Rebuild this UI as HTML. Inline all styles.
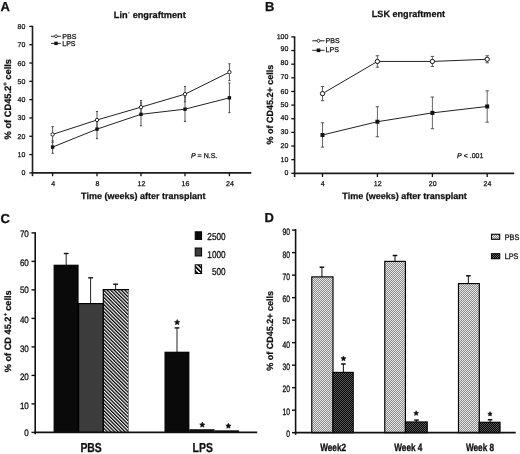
<!DOCTYPE html>
<html><head><meta charset="utf-8"><style>
html,body{margin:0;padding:0;background:#fff;}
body{width:520px;height:454px;overflow:hidden;}
svg{display:block;filter:grayscale(1);text-rendering:geometricPrecision;font-family:"Liberation Sans",sans-serif;}
</style></head><body>
<svg width="520" height="454" viewBox="0 0 520 454">
<defs>
<pattern id="hatch" patternUnits="userSpaceOnUse" width="2.5" height="2.5" patternTransform="rotate(-45)">
<rect width="2.5" height="2.5" fill="#fff"/><rect width="1.3" height="2.5" fill="#000"/></pattern>
<pattern id="hatch2" patternUnits="userSpaceOnUse" width="3.2" height="3.2" patternTransform="rotate(-45)">
<rect width="3.2" height="3.2" fill="#fff"/><rect width="1.7" height="3.2" fill="#000"/></pattern>
<pattern id="dotL" patternUnits="userSpaceOnUse" width="2" height="2">
<rect width="2" height="2" fill="#8c8c8c"/><rect width="1" height="1" fill="#e6e6e6"/><rect x="1" y="1" width="1" height="1" fill="#e6e6e6"/></pattern>
<pattern id="dotD" patternUnits="userSpaceOnUse" width="2" height="2">
<rect width="2" height="2" fill="#000"/><rect width="1" height="1" fill="#5a5a5a"/><rect x="1" y="1" width="1" height="1" fill="#5a5a5a"/></pattern>
</defs>
<rect width="520" height="454" fill="#fff"/>
<text x="0.60" y="10.70" font-size="13" font-weight="bold" font-style="normal" text-anchor="start" fill="#111"  stroke="#111" stroke-width="0.25">A</text>
<line x1="32.50" y1="25.80" x2="32.50" y2="176.20" stroke="#1c1c1c" stroke-width="1.6"/>
<line x1="29.30" y1="172.90" x2="32.50" y2="172.90" stroke="#111" stroke-width="1.3"/>
<text x="25.30" y="175.40" font-size="7" font-weight="normal" font-style="normal" text-anchor="end" fill="#111"  stroke="#111" stroke-width="0.25">0</text>
<line x1="29.30" y1="154.59" x2="32.50" y2="154.59" stroke="#111" stroke-width="1.3"/>
<text x="25.30" y="157.09" font-size="7" font-weight="normal" font-style="normal" text-anchor="end" fill="#111"  stroke="#111" stroke-width="0.25">10</text>
<line x1="29.30" y1="136.27" x2="32.50" y2="136.27" stroke="#111" stroke-width="1.3"/>
<text x="25.30" y="138.77" font-size="7" font-weight="normal" font-style="normal" text-anchor="end" fill="#111"  stroke="#111" stroke-width="0.25">20</text>
<line x1="29.30" y1="117.96" x2="32.50" y2="117.96" stroke="#111" stroke-width="1.3"/>
<text x="25.30" y="120.46" font-size="7" font-weight="normal" font-style="normal" text-anchor="end" fill="#111"  stroke="#111" stroke-width="0.25">30</text>
<line x1="29.30" y1="99.65" x2="32.50" y2="99.65" stroke="#111" stroke-width="1.3"/>
<text x="25.30" y="102.15" font-size="7" font-weight="normal" font-style="normal" text-anchor="end" fill="#111"  stroke="#111" stroke-width="0.25">40</text>
<line x1="29.30" y1="81.34" x2="32.50" y2="81.34" stroke="#111" stroke-width="1.3"/>
<text x="25.30" y="83.84" font-size="7" font-weight="normal" font-style="normal" text-anchor="end" fill="#111"  stroke="#111" stroke-width="0.25">50</text>
<line x1="29.30" y1="63.02" x2="32.50" y2="63.02" stroke="#111" stroke-width="1.3"/>
<text x="25.30" y="65.52" font-size="7" font-weight="normal" font-style="normal" text-anchor="end" fill="#111"  stroke="#111" stroke-width="0.25">60</text>
<line x1="29.30" y1="44.71" x2="32.50" y2="44.71" stroke="#111" stroke-width="1.3"/>
<text x="25.30" y="47.21" font-size="7" font-weight="normal" font-style="normal" text-anchor="end" fill="#111"  stroke="#111" stroke-width="0.25">70</text>
<line x1="29.30" y1="26.40" x2="32.50" y2="26.40" stroke="#111" stroke-width="1.3"/>
<text x="25.30" y="28.90" font-size="7" font-weight="normal" font-style="normal" text-anchor="end" fill="#111"  stroke="#111" stroke-width="0.25">80</text>
<line x1="31.70" y1="172.90" x2="251.30" y2="172.90" stroke="#1c1c1c" stroke-width="1.7"/>
<line x1="52.60" y1="172.90" x2="52.60" y2="176.20" stroke="#111" stroke-width="1.3"/>
<text x="53.10" y="186.20" font-size="7" font-weight="normal" font-style="normal" text-anchor="middle" fill="#111"  stroke="#111" stroke-width="0.25">4</text>
<line x1="97.00" y1="172.90" x2="97.00" y2="176.20" stroke="#111" stroke-width="1.3"/>
<text x="97.50" y="186.20" font-size="7" font-weight="normal" font-style="normal" text-anchor="middle" fill="#111"  stroke="#111" stroke-width="0.25">8</text>
<line x1="141.00" y1="172.90" x2="141.00" y2="176.20" stroke="#111" stroke-width="1.3"/>
<text x="141.50" y="186.20" font-size="7" font-weight="normal" font-style="normal" text-anchor="middle" fill="#111"  stroke="#111" stroke-width="0.25">12</text>
<line x1="185.00" y1="172.90" x2="185.00" y2="176.20" stroke="#111" stroke-width="1.3"/>
<text x="185.50" y="186.20" font-size="7" font-weight="normal" font-style="normal" text-anchor="middle" fill="#111"  stroke="#111" stroke-width="0.25">16</text>
<line x1="229.40" y1="172.90" x2="229.40" y2="176.20" stroke="#111" stroke-width="1.3"/>
<text x="229.90" y="186.20" font-size="7" font-weight="normal" font-style="normal" text-anchor="middle" fill="#111"  stroke="#111" stroke-width="0.25">24</text>
<text x="143.30" y="198.70" font-size="9" font-weight="bold" font-style="normal" text-anchor="middle" fill="#111"  stroke="#111" stroke-width="0.25">Time (weeks) after transplant</text>
<text transform="translate(10.90,99.20) rotate(-90)" font-size="9.3" font-weight="bold" text-anchor="middle" fill="#111" stroke="#111" stroke-width="0.25">% of CD45.2<tspan font-size="6" dy="-3.5">+</tspan><tspan dy="3.5"> cells</tspan></text>
<text x="113.80" y="18.40" font-size="9.2" font-weight="bold" font-style="normal" text-anchor="start" fill="#111"  stroke="#111" stroke-width="0.25">Lin<tspan font-size="4.5" dy="-4.2" dx="0.4">-</tspan><tspan dy="4.2" dx="0.6"> engraftment</tspan></text>
<line x1="52.60" y1="126.57" x2="52.60" y2="142.32" stroke="#555" stroke-width="1.0"/>
<line x1="51.50" y1="126.57" x2="53.70" y2="126.57" stroke="#444" stroke-width="1.0"/>
<line x1="51.50" y1="142.32" x2="53.70" y2="142.32" stroke="#444" stroke-width="1.0"/>
<line x1="97.00" y1="111.55" x2="97.00" y2="128.40" stroke="#555" stroke-width="1.0"/>
<line x1="95.90" y1="111.55" x2="98.10" y2="111.55" stroke="#444" stroke-width="1.0"/>
<line x1="95.90" y1="128.40" x2="98.10" y2="128.40" stroke="#444" stroke-width="1.0"/>
<line x1="141.00" y1="100.56" x2="141.00" y2="113.75" stroke="#555" stroke-width="1.0"/>
<line x1="139.90" y1="100.56" x2="142.10" y2="100.56" stroke="#444" stroke-width="1.0"/>
<line x1="139.90" y1="113.75" x2="142.10" y2="113.75" stroke="#444" stroke-width="1.0"/>
<line x1="185.00" y1="86.46" x2="185.00" y2="101.85" stroke="#555" stroke-width="1.0"/>
<line x1="183.90" y1="86.46" x2="186.10" y2="86.46" stroke="#444" stroke-width="1.0"/>
<line x1="183.90" y1="101.85" x2="186.10" y2="101.85" stroke="#444" stroke-width="1.0"/>
<line x1="229.40" y1="63.75" x2="229.40" y2="80.60" stroke="#555" stroke-width="1.0"/>
<line x1="228.30" y1="63.75" x2="230.50" y2="63.75" stroke="#444" stroke-width="1.0"/>
<line x1="228.30" y1="80.60" x2="230.50" y2="80.60" stroke="#444" stroke-width="1.0"/>
<line x1="52.60" y1="140.85" x2="52.60" y2="153.31" stroke="#555" stroke-width="1.0"/>
<line x1="51.50" y1="140.85" x2="53.70" y2="140.85" stroke="#444" stroke-width="1.0"/>
<line x1="51.50" y1="153.31" x2="53.70" y2="153.31" stroke="#444" stroke-width="1.0"/>
<line x1="97.00" y1="119.61" x2="97.00" y2="138.65" stroke="#555" stroke-width="1.0"/>
<line x1="95.90" y1="119.61" x2="98.10" y2="119.61" stroke="#444" stroke-width="1.0"/>
<line x1="95.90" y1="138.65" x2="98.10" y2="138.65" stroke="#444" stroke-width="1.0"/>
<line x1="141.00" y1="102.76" x2="141.00" y2="125.84" stroke="#555" stroke-width="1.0"/>
<line x1="139.90" y1="102.76" x2="142.10" y2="102.76" stroke="#444" stroke-width="1.0"/>
<line x1="139.90" y1="125.84" x2="142.10" y2="125.84" stroke="#444" stroke-width="1.0"/>
<line x1="185.00" y1="96.90" x2="185.00" y2="121.44" stroke="#555" stroke-width="1.0"/>
<line x1="183.90" y1="96.90" x2="186.10" y2="96.90" stroke="#444" stroke-width="1.0"/>
<line x1="183.90" y1="121.44" x2="186.10" y2="121.44" stroke="#444" stroke-width="1.0"/>
<line x1="229.40" y1="82.98" x2="229.40" y2="112.65" stroke="#555" stroke-width="1.0"/>
<line x1="228.30" y1="82.98" x2="230.50" y2="82.98" stroke="#444" stroke-width="1.0"/>
<line x1="228.30" y1="112.65" x2="230.50" y2="112.65" stroke="#444" stroke-width="1.0"/>
<polyline points="52.60,134.44 97.00,119.98 141.00,107.16 185.00,94.15 229.40,72.18" fill="none" stroke="#222" stroke-width="1"/>
<polyline points="52.60,147.08 97.00,129.13 141.00,114.30 185.00,109.17 229.40,97.82" fill="none" stroke="#222" stroke-width="1"/>
<circle cx="52.60" cy="134.44" r="1.7" fill="#fff" stroke="#111" stroke-width="0.9"/>
<circle cx="97.00" cy="119.98" r="1.7" fill="#fff" stroke="#111" stroke-width="0.9"/>
<circle cx="141.00" cy="107.16" r="1.7" fill="#fff" stroke="#111" stroke-width="0.9"/>
<circle cx="185.00" cy="94.15" r="1.7" fill="#fff" stroke="#111" stroke-width="0.9"/>
<circle cx="229.40" cy="72.18" r="1.7" fill="#fff" stroke="#111" stroke-width="0.9"/>
<rect x="50.90" y="145.38" width="3.40" height="3.40" fill="#111" stroke="none" stroke-width="0"/>
<rect x="95.30" y="127.43" width="3.40" height="3.40" fill="#111" stroke="none" stroke-width="0"/>
<rect x="139.30" y="112.60" width="3.40" height="3.40" fill="#111" stroke="none" stroke-width="0"/>
<rect x="183.30" y="107.47" width="3.40" height="3.40" fill="#111" stroke="none" stroke-width="0"/>
<rect x="227.70" y="96.12" width="3.40" height="3.40" fill="#111" stroke="none" stroke-width="0"/>
<line x1="51.00" y1="36.30" x2="60.80" y2="36.30" stroke="#111" stroke-width="0.9"/>
<circle cx="56" cy="36.3" r="1.4" fill="#fff" stroke="#111" stroke-width="0.8"/>
<line x1="51.00" y1="43.40" x2="60.80" y2="43.40" stroke="#111" stroke-width="0.9"/>
<rect x="54.30" y="41.70" width="3.40" height="3.40" fill="#111" stroke="none" stroke-width="0"/>
<text x="62.30" y="38.90" font-size="7" font-weight="normal" font-style="normal" text-anchor="start" fill="#111"  stroke="#111" stroke-width="0.25">PBS</text>
<text x="62.30" y="46.20" font-size="7" font-weight="normal" font-style="normal" text-anchor="start" fill="#111"  stroke="#111" stroke-width="0.25">LPS</text>
<text x="191.00" y="157.90" font-size="7" font-weight="normal" font-style="normal" text-anchor="start" fill="#111"  stroke="#111" stroke-width="0.25"><tspan font-style="italic">P</tspan> = N.S.</text>
<text x="264.90" y="10.70" font-size="13" font-weight="bold" font-style="normal" text-anchor="start" fill="#111"  stroke="#111" stroke-width="0.25">B</text>
<line x1="294.60" y1="36.30" x2="294.60" y2="177.00" stroke="#1c1c1c" stroke-width="1.6"/>
<line x1="291.30" y1="173.30" x2="294.60" y2="173.30" stroke="#111" stroke-width="1.3"/>
<text x="288.40" y="175.00" font-size="7" font-weight="normal" font-style="normal" text-anchor="end" fill="#111"  stroke="#111" stroke-width="0.25">0</text>
<line x1="291.30" y1="159.66" x2="294.60" y2="159.66" stroke="#111" stroke-width="1.3"/>
<text x="288.40" y="161.90" font-size="7" font-weight="normal" font-style="normal" text-anchor="end" fill="#111"  stroke="#111" stroke-width="0.25">10</text>
<line x1="291.30" y1="146.02" x2="294.60" y2="146.02" stroke="#111" stroke-width="1.3"/>
<text x="288.40" y="147.60" font-size="7" font-weight="normal" font-style="normal" text-anchor="end" fill="#111"  stroke="#111" stroke-width="0.25">20</text>
<line x1="291.30" y1="132.38" x2="294.60" y2="132.38" stroke="#111" stroke-width="1.3"/>
<text x="288.40" y="134.30" font-size="7" font-weight="normal" font-style="normal" text-anchor="end" fill="#111"  stroke="#111" stroke-width="0.25">30</text>
<line x1="291.30" y1="118.74" x2="294.60" y2="118.74" stroke="#111" stroke-width="1.3"/>
<text x="288.40" y="120.00" font-size="7" font-weight="normal" font-style="normal" text-anchor="end" fill="#111"  stroke="#111" stroke-width="0.25">40</text>
<line x1="291.30" y1="105.10" x2="294.60" y2="105.10" stroke="#111" stroke-width="1.3"/>
<text x="288.40" y="107.30" font-size="7" font-weight="normal" font-style="normal" text-anchor="end" fill="#111"  stroke="#111" stroke-width="0.25">50</text>
<line x1="291.30" y1="91.46" x2="294.60" y2="91.46" stroke="#111" stroke-width="1.3"/>
<text x="288.40" y="93.50" font-size="7" font-weight="normal" font-style="normal" text-anchor="end" fill="#111"  stroke="#111" stroke-width="0.25">60</text>
<line x1="291.30" y1="77.82" x2="294.60" y2="77.82" stroke="#111" stroke-width="1.3"/>
<text x="288.40" y="79.30" font-size="7" font-weight="normal" font-style="normal" text-anchor="end" fill="#111"  stroke="#111" stroke-width="0.25">70</text>
<line x1="291.30" y1="64.18" x2="294.60" y2="64.18" stroke="#111" stroke-width="1.3"/>
<text x="288.40" y="64.70" font-size="7" font-weight="normal" font-style="normal" text-anchor="end" fill="#111"  stroke="#111" stroke-width="0.25">80</text>
<line x1="291.30" y1="50.54" x2="294.60" y2="50.54" stroke="#111" stroke-width="1.3"/>
<text x="288.40" y="51.30" font-size="7" font-weight="normal" font-style="normal" text-anchor="end" fill="#111"  stroke="#111" stroke-width="0.25">90</text>
<line x1="291.30" y1="36.90" x2="294.60" y2="36.90" stroke="#111" stroke-width="1.3"/>
<text x="288.40" y="38.80" font-size="7" font-weight="normal" font-style="normal" text-anchor="end" fill="#111"  stroke="#111" stroke-width="0.25">100</text>
<line x1="293.80" y1="173.30" x2="514.20" y2="173.30" stroke="#1c1c1c" stroke-width="1.7"/>
<line x1="322.50" y1="173.30" x2="322.50" y2="177.00" stroke="#111" stroke-width="1.3"/>
<text x="322.80" y="186.00" font-size="7" font-weight="normal" font-style="normal" text-anchor="middle" fill="#111"  stroke="#111" stroke-width="0.25">4</text>
<line x1="377.40" y1="173.30" x2="377.40" y2="177.00" stroke="#111" stroke-width="1.3"/>
<text x="377.70" y="186.00" font-size="7" font-weight="normal" font-style="normal" text-anchor="middle" fill="#111"  stroke="#111" stroke-width="0.25">12</text>
<line x1="432.40" y1="173.30" x2="432.40" y2="177.00" stroke="#111" stroke-width="1.3"/>
<text x="432.70" y="186.00" font-size="7" font-weight="normal" font-style="normal" text-anchor="middle" fill="#111"  stroke="#111" stroke-width="0.25">20</text>
<line x1="487.20" y1="173.30" x2="487.20" y2="177.00" stroke="#111" stroke-width="1.3"/>
<text x="487.50" y="186.00" font-size="7" font-weight="normal" font-style="normal" text-anchor="middle" fill="#111"  stroke="#111" stroke-width="0.25">24</text>
<text x="404.50" y="198.70" font-size="9" font-weight="bold" font-style="normal" text-anchor="middle" fill="#111"  stroke="#111" stroke-width="0.25">Time (weeks) after transplant</text>
<text transform="translate(272.70,104.60) rotate(-90)" font-size="9" font-weight="bold" text-anchor="middle" fill="#111" stroke="#111" stroke-width="0.25">% of CD45.2+ cells</text>
<text x="371.80" y="17.10" font-size="9.1" font-weight="bold" font-style="normal" text-anchor="start" fill="#111"  stroke="#111" stroke-width="0.25">LSK engraftment</text>
<line x1="322.50" y1="86.55" x2="322.50" y2="100.74" stroke="#666" stroke-width="1.0"/>
<line x1="320.80" y1="86.55" x2="324.20" y2="86.55" stroke="#555" stroke-width="1.0"/>
<line x1="320.80" y1="100.74" x2="324.20" y2="100.74" stroke="#555" stroke-width="1.0"/>
<line x1="377.40" y1="55.72" x2="377.40" y2="67.18" stroke="#666" stroke-width="1.0"/>
<line x1="375.70" y1="55.72" x2="379.10" y2="55.72" stroke="#555" stroke-width="1.0"/>
<line x1="375.70" y1="67.18" x2="379.10" y2="67.18" stroke="#555" stroke-width="1.0"/>
<line x1="432.40" y1="56.41" x2="432.40" y2="66.50" stroke="#666" stroke-width="1.0"/>
<line x1="430.70" y1="56.41" x2="434.10" y2="56.41" stroke="#555" stroke-width="1.0"/>
<line x1="430.70" y1="66.50" x2="434.10" y2="66.50" stroke="#555" stroke-width="1.0"/>
<line x1="487.20" y1="55.72" x2="487.20" y2="62.82" stroke="#666" stroke-width="1.0"/>
<line x1="485.50" y1="55.72" x2="488.90" y2="55.72" stroke="#555" stroke-width="1.0"/>
<line x1="485.50" y1="62.82" x2="488.90" y2="62.82" stroke="#555" stroke-width="1.0"/>
<line x1="322.50" y1="122.83" x2="322.50" y2="147.11" stroke="#666" stroke-width="1.0"/>
<line x1="320.80" y1="122.83" x2="324.20" y2="122.83" stroke="#555" stroke-width="1.0"/>
<line x1="320.80" y1="147.11" x2="324.20" y2="147.11" stroke="#555" stroke-width="1.0"/>
<line x1="377.40" y1="106.74" x2="377.40" y2="136.74" stroke="#666" stroke-width="1.0"/>
<line x1="375.70" y1="106.74" x2="379.10" y2="106.74" stroke="#555" stroke-width="1.0"/>
<line x1="375.70" y1="136.74" x2="379.10" y2="136.74" stroke="#555" stroke-width="1.0"/>
<line x1="432.40" y1="97.05" x2="432.40" y2="128.70" stroke="#666" stroke-width="1.0"/>
<line x1="430.70" y1="97.05" x2="434.10" y2="97.05" stroke="#555" stroke-width="1.0"/>
<line x1="430.70" y1="128.70" x2="434.10" y2="128.70" stroke="#555" stroke-width="1.0"/>
<line x1="487.20" y1="90.78" x2="487.20" y2="122.15" stroke="#666" stroke-width="1.0"/>
<line x1="485.50" y1="90.78" x2="488.90" y2="90.78" stroke="#555" stroke-width="1.0"/>
<line x1="485.50" y1="122.15" x2="488.90" y2="122.15" stroke="#555" stroke-width="1.0"/>
<polyline points="322.50,93.64 377.40,61.45 432.40,61.45 487.20,59.27" fill="none" stroke="#222" stroke-width="1"/>
<polyline points="322.50,134.97 377.40,121.74 432.40,112.87 487.20,106.46" fill="none" stroke="#222" stroke-width="1"/>
<circle cx="322.50" cy="93.64" r="2.15" fill="#fff" stroke="#111" stroke-width="1"/>
<circle cx="377.40" cy="61.45" r="2.15" fill="#fff" stroke="#111" stroke-width="1"/>
<circle cx="432.40" cy="61.45" r="2.15" fill="#fff" stroke="#111" stroke-width="1"/>
<circle cx="487.20" cy="59.27" r="2.15" fill="#fff" stroke="#111" stroke-width="1"/>
<rect x="320.50" y="132.97" width="4.00" height="4.00" fill="#111" stroke="none" stroke-width="0"/>
<rect x="375.40" y="119.74" width="4.00" height="4.00" fill="#111" stroke="none" stroke-width="0"/>
<rect x="430.40" y="110.87" width="4.00" height="4.00" fill="#111" stroke="none" stroke-width="0"/>
<rect x="485.20" y="104.46" width="4.00" height="4.00" fill="#111" stroke="none" stroke-width="0"/>
<line x1="312.30" y1="40.80" x2="324.60" y2="40.80" stroke="#111" stroke-width="0.9"/>
<circle cx="318.5" cy="40.8" r="1.5" fill="#fff" stroke="#111" stroke-width="0.8"/>
<line x1="312.30" y1="50.30" x2="324.60" y2="50.30" stroke="#111" stroke-width="0.9"/>
<rect x="316.70" y="48.50" width="3.60" height="3.60" fill="#111" stroke="none" stroke-width="0"/>
<text x="325.60" y="42.90" font-size="7" font-weight="normal" font-style="normal" text-anchor="start" fill="#111"  stroke="#111" stroke-width="0.25">PBS</text>
<text x="325.60" y="52.20" font-size="7" font-weight="normal" font-style="normal" text-anchor="start" fill="#111"  stroke="#111" stroke-width="0.25">LPS</text>
<text x="457.10" y="157.90" font-size="7" font-weight="normal" font-style="normal" text-anchor="start" fill="#111"  stroke="#111" stroke-width="0.25"><tspan font-style="italic">P</tspan> &lt; .001</text>
<text x="0.60" y="222.90" font-size="13" font-weight="bold" font-style="normal" text-anchor="start" fill="#111"  stroke="#111" stroke-width="0.25">C</text>
<line x1="66.20" y1="265.70" x2="66.20" y2="253.50" stroke="#222" stroke-width="1.0"/>
<line x1="63.80" y1="253.50" x2="68.60" y2="253.50" stroke="#111" stroke-width="1.4"/>
<line x1="90.60" y1="304.00" x2="90.60" y2="277.80" stroke="#222" stroke-width="1.0"/>
<line x1="88.20" y1="277.80" x2="93.00" y2="277.80" stroke="#111" stroke-width="1.4"/>
<line x1="115.60" y1="290.00" x2="115.60" y2="284.20" stroke="#222" stroke-width="1.0"/>
<line x1="113.20" y1="284.20" x2="118.00" y2="284.20" stroke="#111" stroke-width="1.4"/>
<rect x="54.20" y="265.30" width="23.80" height="167.10" fill="#0a0a0a" stroke="#000" stroke-width="1.2"/>
<rect x="78.60" y="303.60" width="24.70" height="128.80" fill="#3c3c3c" stroke="#000" stroke-width="1.2"/>
<rect x="103.30" y="289.60" width="25.20" height="142.80" fill="url(#hatch)" stroke="none" stroke-width="0"/>
<line x1="128.50" y1="289.60" x2="128.50" y2="432.40" stroke="#8a8a8a" stroke-width="1.0"/>
<line x1="103.30" y1="289.60" x2="103.30" y2="432.40" stroke="#000" stroke-width="1.2"/>
<line x1="102.70" y1="289.60" x2="129.00" y2="289.60" stroke="#000" stroke-width="1.2"/>
<line x1="177.00" y1="352.70" x2="177.00" y2="327.90" stroke="#222" stroke-width="1.0"/>
<line x1="174.60" y1="327.90" x2="179.40" y2="327.90" stroke="#111" stroke-width="1.4"/>
<rect x="165.10" y="352.30" width="23.70" height="80.10" fill="#0a0a0a" stroke="#000" stroke-width="1.2"/>
<rect x="189.20" y="429.20" width="25.40" height="3.00" fill="#111" stroke="none" stroke-width="0"/>
<rect x="214.60" y="430.30" width="24.50" height="2.00" fill="#111" stroke="none" stroke-width="0"/>
<polygon points="177.20,319.50 178.05,321.23 179.96,321.50 178.58,322.85 178.90,324.75 177.20,323.85 175.50,324.75 175.82,322.85 174.44,321.50 176.35,321.23" fill="#111" stroke="#111" stroke-width="0.5" stroke-linejoin="round"/>
<polygon points="202.30,422.10 203.12,423.77 204.96,424.03 203.63,425.33 203.95,427.17 202.30,426.30 200.65,427.17 200.97,425.33 199.64,424.03 201.48,423.77" fill="#111" stroke="#111" stroke-width="0.5" stroke-linejoin="round"/>
<polygon points="228.40,423.20 229.22,424.87 231.06,425.13 229.73,426.43 230.05,428.27 228.40,427.40 226.75,428.27 227.07,426.43 225.74,425.13 227.58,424.87" fill="#111" stroke="#111" stroke-width="0.5" stroke-linejoin="round"/>
<line x1="35.20" y1="232.30" x2="35.20" y2="434.30" stroke="#111" stroke-width="1.6"/>
<line x1="31.50" y1="432.40" x2="35.20" y2="432.40" stroke="#111" stroke-width="1.4"/>
<text transform="translate(28.80,436.30) scale(0.86,1)" font-size="9.3" font-weight="normal" font-style="normal" text-anchor="end" fill="#111" stroke="#111" stroke-width="0.3">0</text>
<line x1="31.50" y1="403.90" x2="35.20" y2="403.90" stroke="#111" stroke-width="1.4"/>
<text transform="translate(28.80,408.80) scale(0.86,1)" font-size="9.3" font-weight="normal" font-style="normal" text-anchor="end" fill="#111" stroke="#111" stroke-width="0.3">10</text>
<line x1="31.50" y1="375.40" x2="35.20" y2="375.40" stroke="#111" stroke-width="1.4"/>
<text transform="translate(28.80,380.30) scale(0.86,1)" font-size="9.3" font-weight="normal" font-style="normal" text-anchor="end" fill="#111" stroke="#111" stroke-width="0.3">20</text>
<line x1="31.50" y1="346.90" x2="35.20" y2="346.90" stroke="#111" stroke-width="1.4"/>
<text transform="translate(28.80,351.60) scale(0.86,1)" font-size="9.3" font-weight="normal" font-style="normal" text-anchor="end" fill="#111" stroke="#111" stroke-width="0.3">30</text>
<line x1="31.50" y1="318.40" x2="35.20" y2="318.40" stroke="#111" stroke-width="1.4"/>
<text transform="translate(28.80,323.20) scale(0.86,1)" font-size="9.3" font-weight="normal" font-style="normal" text-anchor="end" fill="#111" stroke="#111" stroke-width="0.3">40</text>
<line x1="31.50" y1="289.90" x2="35.20" y2="289.90" stroke="#111" stroke-width="1.4"/>
<text transform="translate(28.80,293.30) scale(0.86,1)" font-size="9.3" font-weight="normal" font-style="normal" text-anchor="end" fill="#111" stroke="#111" stroke-width="0.3">50</text>
<line x1="31.50" y1="261.40" x2="35.20" y2="261.40" stroke="#111" stroke-width="1.4"/>
<text transform="translate(28.80,266.40) scale(0.86,1)" font-size="9.3" font-weight="normal" font-style="normal" text-anchor="end" fill="#111" stroke="#111" stroke-width="0.3">60</text>
<line x1="31.50" y1="232.90" x2="35.20" y2="232.90" stroke="#111" stroke-width="1.4"/>
<text transform="translate(28.80,236.95) scale(0.86,1)" font-size="9.3" font-weight="normal" font-style="normal" text-anchor="end" fill="#111" stroke="#111" stroke-width="0.3">70</text>
<line x1="34.40" y1="432.40" x2="257.20" y2="432.40" stroke="#111" stroke-width="1.7"/>
<rect x="195.20" y="231.80" width="6.40" height="7.60" fill="#0a0a0a" stroke="#000" stroke-width="1"/>
<rect x="195.20" y="248.00" width="6.40" height="8.00" fill="#3c3c3c" stroke="#000" stroke-width="1"/>
<rect x="195.20" y="264.80" width="6.40" height="8.70" fill="url(#hatch2)" stroke="#000" stroke-width="1"/>
<text transform="translate(225.60,240.10) scale(0.82,1)" font-size="10" font-weight="normal" font-style="normal" text-anchor="end" fill="#111"  stroke="#111" stroke-width="0.30">2500</text>
<text transform="translate(225.60,257.70) scale(0.82,1)" font-size="10" font-weight="normal" font-style="normal" text-anchor="end" fill="#111"  stroke="#111" stroke-width="0.30">1000</text>
<text transform="translate(225.60,274.60) scale(0.82,1)" font-size="10" font-weight="normal" font-style="normal" text-anchor="end" fill="#111"  stroke="#111" stroke-width="0.30">500</text>
<text transform="translate(91.10,452.40) scale(0.8,1)" font-size="13" font-weight="bold" font-style="normal" text-anchor="middle" fill="#111"  stroke="#111" stroke-width="0.31">PBS</text>
<text transform="translate(202.70,452.40) scale(0.8,1)" font-size="13" font-weight="bold" font-style="normal" text-anchor="middle" fill="#111"  stroke="#111" stroke-width="0.31">LPS</text>
<text transform="translate(10.50,331.30) rotate(-90)" font-size="9.2" font-weight="bold" text-anchor="middle" fill="#111" stroke="#111" stroke-width="0.25">% of CD 45.2<tspan font-size="5.2" dy="-4" dx="0.6">+</tspan><tspan dy="4" dx="-0.4"> cells</tspan></text>
<text x="264.40" y="222.40" font-size="13" font-weight="bold" font-style="normal" text-anchor="start" fill="#111"  stroke="#111" stroke-width="0.25">D</text>
<line x1="321.90" y1="277.30" x2="321.90" y2="267.20" stroke="#222" stroke-width="1.1"/>
<line x1="319.60" y1="267.20" x2="324.20" y2="267.20" stroke="#111" stroke-width="1.5"/>
<line x1="343.40" y1="372.80" x2="343.40" y2="364.00" stroke="#222" stroke-width="1.1"/>
<line x1="341.10" y1="364.00" x2="345.70" y2="364.00" stroke="#111" stroke-width="1.5"/>
<line x1="395.00" y1="261.80" x2="395.00" y2="255.50" stroke="#222" stroke-width="1.1"/>
<line x1="392.70" y1="255.50" x2="397.30" y2="255.50" stroke="#111" stroke-width="1.5"/>
<line x1="416.50" y1="422.40" x2="416.50" y2="420.10" stroke="#222" stroke-width="1.1"/>
<line x1="414.20" y1="420.10" x2="418.80" y2="420.10" stroke="#111" stroke-width="1.5"/>
<line x1="468.40" y1="284.00" x2="468.40" y2="275.80" stroke="#222" stroke-width="1.1"/>
<line x1="466.10" y1="275.80" x2="470.70" y2="275.80" stroke="#111" stroke-width="1.5"/>
<line x1="490.10" y1="422.70" x2="490.10" y2="419.70" stroke="#222" stroke-width="1.1"/>
<line x1="487.80" y1="419.70" x2="492.40" y2="419.70" stroke="#111" stroke-width="1.5"/>
<rect x="311.77" y="276.88" width="21.25" height="155.82" fill="url(#dotL)" stroke="#000" stroke-width="1.15"/>
<rect x="332.97" y="372.38" width="20.25" height="60.32" fill="url(#dotD)" stroke="#000" stroke-width="1.15"/>
<rect x="384.77" y="261.38" width="20.65" height="171.32" fill="url(#dotL)" stroke="#000" stroke-width="1.15"/>
<rect x="405.38" y="421.97" width="21.85" height="10.73" fill="url(#dotD)" stroke="#000" stroke-width="1.15"/>
<rect x="458.47" y="283.57" width="20.85" height="149.12" fill="url(#dotL)" stroke="#000" stroke-width="1.15"/>
<rect x="479.18" y="422.27" width="20.85" height="10.43" fill="url(#dotD)" stroke="#000" stroke-width="1.15"/>
<polygon points="343.50,355.90 344.29,357.51 346.07,357.77 344.78,359.02 345.09,360.78 343.50,359.95 341.91,360.78 342.22,359.02 340.93,357.77 342.71,357.51" fill="#111" stroke="#111" stroke-width="0.5" stroke-linejoin="round"/>
<polygon points="416.20,410.70 416.96,412.25 418.67,412.50 417.44,413.70 417.73,415.40 416.20,414.60 414.67,415.40 414.96,413.70 413.73,412.50 415.44,412.25" fill="#111" stroke="#111" stroke-width="0.5" stroke-linejoin="round"/>
<polygon points="490.00,411.60 490.71,413.03 492.28,413.26 491.14,414.37 491.41,415.94 490.00,415.20 488.59,415.94 488.86,414.37 487.72,413.26 489.29,413.03" fill="#111" stroke="#111" stroke-width="0.5" stroke-linejoin="round"/>
<line x1="295.60" y1="229.00" x2="295.60" y2="434.80" stroke="#111" stroke-width="1.6"/>
<line x1="292.00" y1="432.70" x2="295.60" y2="432.70" stroke="#111" stroke-width="1.4"/>
<text transform="translate(290.00,437.35) scale(0.72,1)" font-size="9.3" font-weight="normal" font-style="normal" text-anchor="end" fill="#111" stroke="#111" stroke-width="0.35">0</text>
<line x1="292.00" y1="410.19" x2="295.60" y2="410.19" stroke="#111" stroke-width="1.4"/>
<text transform="translate(290.00,415.35) scale(0.72,1)" font-size="9.3" font-weight="normal" font-style="normal" text-anchor="end" fill="#111" stroke="#111" stroke-width="0.35">10</text>
<line x1="292.00" y1="387.68" x2="295.60" y2="387.68" stroke="#111" stroke-width="1.4"/>
<text transform="translate(290.00,391.70) scale(0.72,1)" font-size="9.3" font-weight="normal" font-style="normal" text-anchor="end" fill="#111" stroke="#111" stroke-width="0.35">20</text>
<line x1="292.00" y1="365.17" x2="295.60" y2="365.17" stroke="#111" stroke-width="1.4"/>
<text transform="translate(290.00,370.00) scale(0.72,1)" font-size="9.3" font-weight="normal" font-style="normal" text-anchor="end" fill="#111" stroke="#111" stroke-width="0.35">30</text>
<line x1="292.00" y1="342.66" x2="295.60" y2="342.66" stroke="#111" stroke-width="1.4"/>
<text transform="translate(290.00,348.00) scale(0.72,1)" font-size="9.3" font-weight="normal" font-style="normal" text-anchor="end" fill="#111" stroke="#111" stroke-width="0.35">40</text>
<line x1="292.00" y1="320.15" x2="295.60" y2="320.15" stroke="#111" stroke-width="1.4"/>
<text transform="translate(290.00,324.30) scale(0.72,1)" font-size="9.3" font-weight="normal" font-style="normal" text-anchor="end" fill="#111" stroke="#111" stroke-width="0.35">50</text>
<line x1="292.00" y1="297.64" x2="295.60" y2="297.64" stroke="#111" stroke-width="1.4"/>
<text transform="translate(290.00,302.30) scale(0.72,1)" font-size="9.3" font-weight="normal" font-style="normal" text-anchor="end" fill="#111" stroke="#111" stroke-width="0.35">60</text>
<line x1="292.00" y1="275.13" x2="295.60" y2="275.13" stroke="#111" stroke-width="1.4"/>
<text transform="translate(290.00,279.80) scale(0.72,1)" font-size="9.3" font-weight="normal" font-style="normal" text-anchor="end" fill="#111" stroke="#111" stroke-width="0.35">70</text>
<line x1="292.00" y1="252.62" x2="295.60" y2="252.62" stroke="#111" stroke-width="1.4"/>
<text transform="translate(290.00,257.50) scale(0.72,1)" font-size="9.3" font-weight="normal" font-style="normal" text-anchor="end" fill="#111" stroke="#111" stroke-width="0.35">80</text>
<line x1="292.00" y1="230.11" x2="295.60" y2="230.11" stroke="#111" stroke-width="1.4"/>
<text transform="translate(290.00,234.60) scale(0.72,1)" font-size="9.3" font-weight="normal" font-style="normal" text-anchor="end" fill="#111" stroke="#111" stroke-width="0.35">90</text>
<line x1="294.80" y1="432.70" x2="515.70" y2="432.70" stroke="#111" stroke-width="1.7"/>
<rect x="491.50" y="234.30" width="8.20" height="5.00" fill="url(#dotL)" stroke="#000" stroke-width="1.1"/>
<rect x="491.50" y="253.70" width="8.20" height="5.00" fill="url(#dotD)" stroke="#000" stroke-width="1.1"/>
<text transform="translate(504.70,239.70) scale(0.9,1)" font-size="8.1" font-weight="normal" font-style="normal" text-anchor="start" fill="#111"  stroke="#111" stroke-width="0.28">PBS</text>
<text transform="translate(504.70,259.10) scale(0.9,1)" font-size="8.1" font-weight="normal" font-style="normal" text-anchor="start" fill="#111"  stroke="#111" stroke-width="0.28">LPS</text>
<text transform="translate(333.10,451.00) scale(0.78,1)" font-size="10.5" font-weight="bold" font-style="normal" text-anchor="middle" fill="#111"  stroke="#111" stroke-width="0.32">Week2</text>
<text transform="translate(408.30,451.00) scale(0.78,1)" font-size="10.5" font-weight="bold" font-style="normal" text-anchor="middle" fill="#111"  stroke="#111" stroke-width="0.32">Week 4</text>
<text transform="translate(480.00,451.00) scale(0.78,1)" font-size="10.5" font-weight="bold" font-style="normal" text-anchor="middle" fill="#111"  stroke="#111" stroke-width="0.32">Week 8</text>
<text transform="translate(272.80,330.90) rotate(-90)" font-size="9" font-weight="bold" text-anchor="middle" fill="#111" stroke="#111" stroke-width="0.25">% of CD45.2+ cells</text>
</svg>
</body></html>
